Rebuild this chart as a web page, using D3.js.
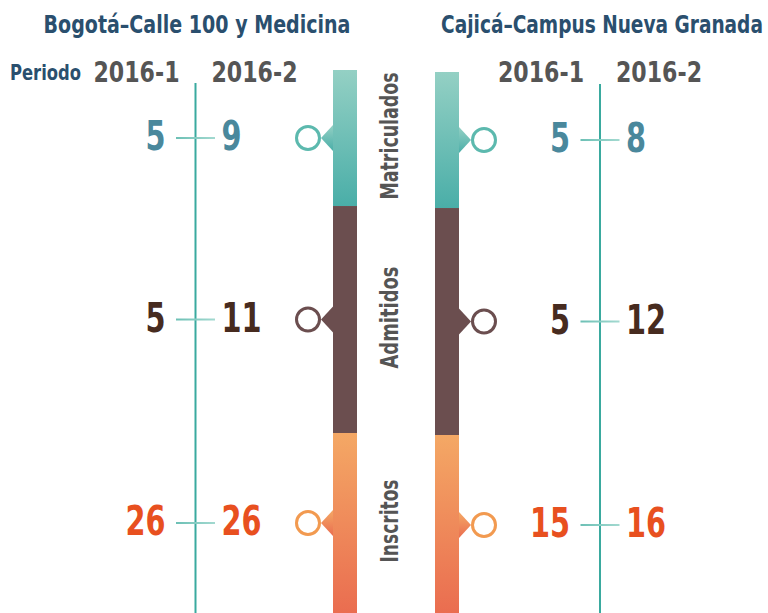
<!DOCTYPE html>
<html>
<head>
<meta charset="utf-8">
<script src="https://cdn.jsdelivr.net/npm/d3@7"></script>
<style>
  body { margin: 0; background: #fff; }
  text { font-family: "Liberation Sans Narrow", "DejaVu Sans Condensed", "Roboto Condensed", Roboto, sans-serif; font-weight: bold; }
</style>
</head>
<body>
<div id="chart"></div>
<script>
// Data
var categories = ['Matriculados', 'Admitidos', 'Inscritos']
var periods = ['2016-1', '2016-2']
var campuses = ['Bogotá–Calle 100 y Medicina', 'Cajicá–Campus Nueva Granada']
var bogotaValues = [[5, 9], [5, 11], [26, 26]]
var cajicaValues = [[5, 8], [5, 12], [15, 16]]

var svgWidth = 768
var svgHeight = 613

var svg = d3.select('#chart')
      .append('svg')
      .attr('width', svgWidth)
      .attr('height', svgHeight)

// gradients for the bar segments
var defs = svg.append('defs')
var gradStops = {
      Matriculados: ['#94d0c4', '#4aaea8'],
      Admitidos: ['#6b4e4f', '#6b4e4f'],
      Inscritos: ['#f4a865', '#ea6d50']
}
categories.forEach(function(c) {
      var g = defs.append('linearGradient')
            .attr('id', 'grad-' + c)
            .attr('x1', 0).attr('y1', 0).attr('x2', 0).attr('y2', 1)
      g.append('stop').attr('offset', '0%').attr('stop-color', gradStops[c][0])
      g.append('stop').attr('offset', '100%').attr('stop-color', gradStops[c][1])
})
var tickGrad = defs.append('linearGradient').attr('id', 'tick-grad')
tickGrad.append('stop').attr('offset', '0%').attr('stop-color', '#6cc0b5')
tickGrad.append('stop').attr('offset', '100%').attr('stop-color', '#a3d9d0')

var numberColor = d3.scaleOrdinal().domain(categories).range(['#4a889c', '#472b1f', '#e8501f'])
var ringColor = d3.scaleOrdinal().domain(categories).range(['#5cb9ae', '#6b4e4f', '#f29a50'])

// layout of the two panels
var panels = [
      { name: campuses[0], values: bogotaValues, side: -1, shift: 0,
        titleX: 197, titleLen: 307, vline: 195.5, barX: 333, lineTop: 83 },
      { name: campuses[1], values: cajicaValues, side: 1, shift: 2,
        titleX: 602, titleLen: 322, vline: 600, barX: 435, lineTop: 84 }
]
var barW = 24

// band boundaries of the stacked column (layout, not data)
var segScale = d3.scaleLinear().domain([0, 1]).range([70, 613])
var segBounds = [0, 0.2505, 0.6685, 1]

function rowY(i, shift) {
      return (segScale(segBounds[i]) + segScale(segBounds[i + 1])) / 2 + shift
}

// squeeze a centred text horizontally to a given width
function fitWidth(sel, cx, cy, width) {
      var w = sel.node().getComputedTextLength()
      var k = Math.min(1, width / w)
      sel.attr('x', 0).attr('y', 0)
            .attr('transform', `translate(${cx}, ${cy}) scale(${k}, 1)`)
}

panels.forEach(function(p) {
      var g = svg.append('g')

      // title
      var title = g.append('text')
            .attr('text-anchor', 'middle')
            .attr('font-size', 25)
            .attr('fill', '#2a4f6e')
            .text(p.name)
      fitWidth(title, p.titleX, 33, p.titleLen)

      // period headers
      var headX = d3.scalePoint().domain(periods).range([p.vline - 59, p.vline + 59])
      g.selectAll('.period')
            .data(periods)
            .enter()
            .append('text')
            .attr('x', d => headX(d))
            .attr('y', 82)
            .attr('text-anchor', 'middle')
            .attr('font-size', 29)
            .attr('fill', '#555555')
            .attr('textLength', 86)
            .attr('lengthAdjust', 'spacingAndGlyphs')
            .text(d => d)

      // vertical axis line
      g.append('line')
            .attr('x1', p.vline).attr('x2', p.vline)
            .attr('y1', p.lineTop).attr('y2', svgHeight)
            .attr('stroke', '#3aaa9f')
            .attr('stroke-width', 2)

      // bar segments
      categories.forEach(function(c, i) {
            var y0 = segScale(segBounds[i]) + p.shift
            var y1 = i === categories.length - 1 ? svgHeight : segScale(segBounds[i + 1]) + p.shift
            g.append('rect')
                  .attr('x', p.barX)
                  .attr('y', y0)
                  .attr('width', barW)
                  .attr('height', y1 - y0)
                  .attr('fill', 'url(#grad-' + c + ')')
      })

      categories.forEach(function(c, i) {
            var y = rowY(i, p.shift)
            var baseX = p.side < 0 ? p.barX : p.barX + barW
            var tipX = baseX + p.side * 12

            // arrow notch
            g.append('path')
                  .attr('d', `M${baseX},${y - 13}L${tipX},${y}L${baseX},${y + 13}Z`)
                  .attr('fill', 'url(#grad-' + c + ')')

            // ring
            g.append('circle')
                  .attr('cx', baseX + p.side * 25)
                  .attr('cy', y)
                  .attr('r', 11.5)
                  .attr('fill', '#fff')
                  .attr('stroke', ringColor(c))
                  .attr('stroke-width', 3)

            // tick across the period line
            g.append('rect')
                  .attr('x', p.vline - 19.5)
                  .attr('y', y - 1)
                  .attr('width', 39)
                  .attr('height', 2)
                  .attr('fill', 'url(#tick-grad)')

            // values
            var vals = p.values[i]
            g.append('text')
                  .attr('x', p.vline - 30)
                  .attr('y', y + 12)
                  .attr('text-anchor', 'end')
                  .attr('font-size', 41)
                  .attr('fill', numberColor(c))
                  .attr('textLength', String(vals[0]).length * 20)
                  .attr('lengthAdjust', 'spacingAndGlyphs')
                  .text(vals[0])
            g.append('text')
                  .attr('x', p.vline + 26)
                  .attr('y', y + 12)
                  .attr('text-anchor', 'start')
                  .attr('font-size', 41)
                  .attr('fill', numberColor(c))
                  .attr('textLength', String(vals[1]).length * 20)
                  .attr('lengthAdjust', 'spacingAndGlyphs')
                  .text(vals[1])
      })
})

// Periodo label
svg.append('text')
      .attr('x', 10)
      .attr('y', 80)
      .attr('font-size', 22)
      .attr('fill', '#2a4f6e')
      .attr('textLength', 71)
      .attr('lengthAdjust', 'spacingAndGlyphs')
      .text('Periodo')

// category labels in the middle, rotated
var labelLen = { Matriculados: 127, Admitidos: 102, Inscritos: 83 }
categories.forEach(function(c, i) {
      var y = rowY(i, 0) - 2
      svg.append('text')
            .attr('transform', `translate(398, ${y}) rotate(-90)`)
            .attr('text-anchor', 'middle')
            .attr('font-size', 25)
            .attr('fill', '#555555')
            .attr('textLength', labelLen[c])
            .attr('lengthAdjust', 'spacingAndGlyphs')
            .text(c)
})
</script>
</body>
</html>
